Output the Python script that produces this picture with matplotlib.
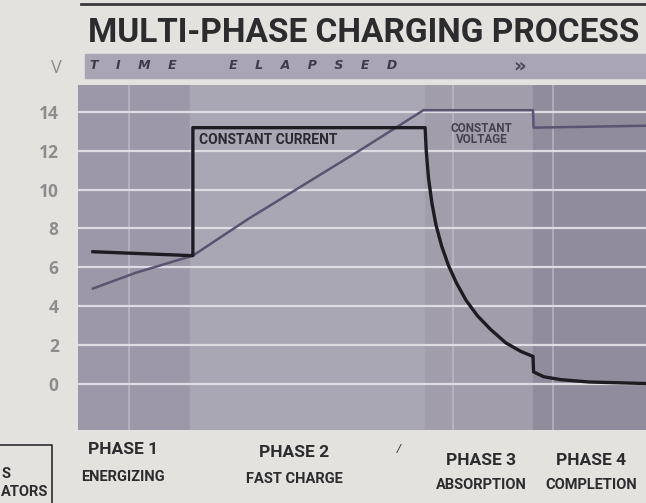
import numpy as np
import matplotlib.pyplot as plt
from matplotlib.patches import Rectangle

# Time axis in arbitrary units (0 = left edge of chart, 100 = right edge)
phase_edges = [0, 19.7, 61.1, 80.1, 100]
phase_titles = ['PHASE 1', 'PHASE 2', 'PHASE 3', 'PHASE 4']
phase_names = ['ENERGIZING', 'FAST CHARGE', 'ABSORPTION', 'COMPLETION']
band_colors = ['#9c98a8', '#aaa7b4', '#a19dab', '#918c9b']

# Current trace (black, thick)
current_t = [2.6, 19.8, 20.2, 20.2, 61.1, 61.3, 61.7, 62.3, 63.0, 64.0, 65.2, 66.6,
             68.3, 70.3, 72.6, 75.3, 78.0, 80.1, 80.2, 82.0, 85.0, 90.0, 100]
current_v = [6.8, 6.6, 6.6, 13.2, 13.2, 12.0, 10.6, 9.3, 8.2, 7.1, 6.1, 5.2,
             4.3, 3.5, 2.8, 2.1, 1.65, 1.4, 0.6, 0.35, 0.2, 0.08, 0.0]

# Voltage trace (grey-violet, thinner)
voltage_t = [2.6, 10.0, 20.2, 30.0, 40.0, 50.0, 60.8, 80.1, 80.2, 100]
voltage_v = [4.9, 5.7, 6.6, 8.5, 10.3, 12.1, 14.1, 14.1, 13.2, 13.3]

y_ticks = [0, 2, 4, 6, 8, 10, 12, 14]

cond = 'Roboto'
page = '#e3e2df'
fig = plt.figure(figsize=(6.46, 5.03), dpi=100, facecolor=page)
ax = fig.add_axes([0.121, 0.145, 0.879, 0.686])
ax.set_xlim(0, 100)
ax.set_ylim(-2.4, 15.4)

for i in range(4):
    ax.axvspan(phase_edges[i], phase_edges[i + 1], color=band_colors[i], zorder=0)
for xv in [9.0, 66.0, 83.6]:
    ax.axvline(xv, color='#c4c2cc', lw=1.2, alpha=0.7, zorder=1)
for yv in y_ticks:
    ax.axhline(yv, color='#dedce3', lw=1.6, zorder=1)

ax.plot(voltage_t, voltage_v, color='#5a5470', lw=1.8, zorder=3)
ax.plot(current_t, current_v, color='#1e1c22', lw=2.4, zorder=4,
        solid_joinstyle='round')

ax.text(21.2, 12.95, 'CONSTANT CURRENT', fontsize=10, fontweight='bold',
        family=cond, color='#2a2830', va='top', zorder=5)
ax.text(71.0, 13.5, 'CONSTANT\nVOLTAGE', fontsize=8.5, fontweight='bold',
        family=cond, color='#45424d', va='top', ha='center',
        linespacing=0.85, zorder=5)

ax.set_yticks(y_ticks)
ax.set_yticklabels([str(v) for v in y_ticks], fontsize=12.5, color='#8d8d8d',
                   fontweight='bold', family='Open Sans')
ax.tick_params(axis='y', length=0, pad=14)
ax.set_xticks([])
for s in ax.spines.values():
    s.set_visible(False)

# Title and "time elapsed" strip
fig.text(0.136, 0.935, 'MULTI-PHASE CHARGING PROCESS', fontsize=24, fontweight='bold',
         family=cond, color='#2c2b2e', va='center', ha='left')
fig.add_artist(Rectangle((0.131, 0.845), 0.869, 0.048, transform=fig.transFigure,
                         color='#a9a5b5', zorder=0))
fig.text(0.14, 0.869, 'T    I    M    E            E    L    A    P    S    E    D',
         fontsize=9, fontweight='bold', style='italic', color='#3e3b48', va='center')
fig.text(0.795, 0.869, '»', fontsize=14, fontweight='bold', color='#4a4656', va='center')
fig.text(0.088, 0.865, 'V', fontsize=13, color='#8d8d8d', va='center', ha='center',
         family='Open Sans')
fig.add_artist(plt.Line2D([0.125, 1.0], [0.992, 0.992], transform=fig.transFigure,
                          color='#3a393c', lw=2))

# Phase labels under the chart
label_x = [0.19, 0.455, 0.745, 0.915]
title_y = [0.107, 0.101, 0.085, 0.085]
name_y = [0.052, 0.048, 0.036, 0.036]
for i in range(4):
    fig.text(label_x[i], title_y[i], phase_titles[i], fontsize=12.5, fontweight='bold',
             family=cond, color='#2c2b2e', ha='center', va='center')
    fig.text(label_x[i], name_y[i], phase_names[i], fontsize=10.5, fontweight='bold',
             family=cond, color='#2c2b2e', ha='center', va='center')
fig.text(0.617, 0.102, '/', fontsize=8, style='italic', color='#2c2b2e', ha='center')

# Partially visible legend box at left
fig.add_artist(plt.Line2D([0.0, 0.08, 0.08], [0.115, 0.115, 0.0],
                          transform=fig.transFigure, color='#2c2b2e', lw=1.2))
fig.text(0.002, 0.058, 'S', fontsize=10.5, fontweight='bold',
         family=cond, color='#2c2b2e', va='center')
fig.text(0.002, 0.022, 'ATORS', fontsize=10.5, fontweight='bold',
         family=cond, color='#2c2b2e', va='center')

fig.savefig('out.png', dpi=100, facecolor=page)
